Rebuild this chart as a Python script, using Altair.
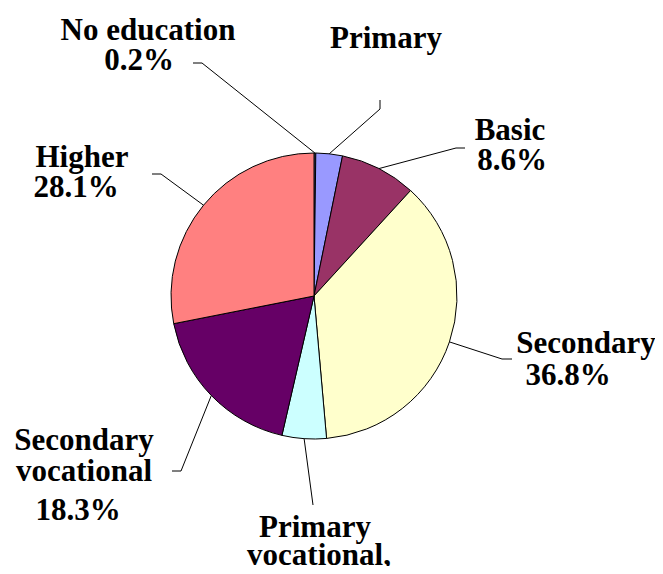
import altair as alt
import pandas as pd
import numpy as np

categories = ["No education", "Primary", "Basic", "Secondary",
              "Primary vocational", "Secondary vocational", "Higher"]
values = [0.2, 3.0, 8.6, 36.8, 5.0, 18.3, 28.1]
colors = ["#666699", "#9999FF", "#993366", "#FFFFCC", "#CCFFFF", "#660066", "#FF8080"]

# label text lines: (category, text, x center, baseline y)
label_lines = [
    ("No education", "No education", 148, 40),
    ("No education", "0.2%", 139, 70),
    ("Primary", "Primary", 386, 48),
    ("Basic", "Basic", 510, 140),
    ("Basic", "8.6%", 512, 170),
    ("Higher", "Higher", 82, 167),
    ("Higher", "28.1%", 76, 197),
    ("Secondary", "Secondary", 586, 353),
    ("Secondary", "36.8%", 568, 385),
    ("Secondary vocational", "Secondary", 84, 450),
    ("Secondary vocational", "vocational", 84, 481),
    ("Secondary vocational", "18.3%", 78, 520),
    ("Primary vocational", "Primary", 315, 537),
    ("Primary vocational", "vocational,", 319, 565),
]

# leader line outer points (end, elbow) per category
leader_outer = {
    "No education": [(193, 63), (202, 63)],
    "Primary": [(380, 100), (380, 109)],
    "Basic": [(465, 148), (456, 148)],
    "Secondary": [(512, 359), (502, 359)],
    "Primary vocational": [(313, 505), (313, 505)],
    "Secondary vocational": [(172, 471), (181, 471)],
    "Higher": [(152, 174), (161, 174)],
}

CX, CY, R = 314, 296, 143
FONT = "Liberation Serif"

pie_df = pd.DataFrame({
    "category": categories,
    "value": values,
    "idx": list(range(len(categories))),
    "cx": [CX] * len(categories),
    "cy": [CY] * len(categories),
})

total = sum(values)
cum = np.cumsum([0] + values)
rows = []
for i, c in enumerate(categories):
    mid = (cum[i] + values[i] / 2) / total * 2 * np.pi
    ex = CX + R * np.sin(mid)
    ey = CY - R * np.cos(mid)
    pts = leader_outer[c] + [(ex, ey)]
    for k, (px, py) in enumerate(pts):
        rows.append({"category": c, "step": k, "x": px, "y": py})
lead_df = pd.DataFrame(rows)

text_df = pd.DataFrame(label_lines, columns=["category", "label", "tx", "ty"])

W, H = 647, 558
xs = alt.Scale(domain=[8, 8 + W], nice=False, zero=False)
ys = alt.Scale(domain=[8, 8 + H], nice=False, zero=False, reverse=True)

pie = alt.Chart(pie_df).mark_arc(outerRadius=R, stroke="black", strokeWidth=1).encode(
    x=alt.X("cx:Q", scale=xs, axis=None),
    y=alt.Y("cy:Q", scale=ys, axis=None),
    theta=alt.Theta("value:Q", stack=True),
    order=alt.Order("idx:Q"),
    color=alt.Color("category:N", scale=alt.Scale(domain=categories, range=colors), legend=None),
)

leaders = alt.Chart(lead_df).mark_line(color="black", strokeWidth=1).encode(
    x=alt.X("x:Q", scale=xs, axis=None),
    y=alt.Y("y:Q", scale=ys, axis=None),
    detail="category:N",
    order="step:Q",
)

text_layers = []
for i in range(len(text_df)):
    sub = text_df.iloc[[i]]
    text_layers.append(
        alt.Chart(sub).mark_text(
            font=FONT, fontWeight="bold", fontSize=31,
            align="center", baseline="alphabetic",
        ).encode(
            x=alt.X("tx:Q", scale=xs, axis=None),
            y=alt.Y("ty:Q", scale=ys, axis=None),
            text="label:N",
        )
    )

chart = alt.layer(pie, leaders, *text_layers).properties(
    width=W, height=H, padding=0, autosize=alt.AutoSizeParams(type="none"),
).configure_view(stroke=None)

chart.save("out.html", embed_options={"renderer": "svg", "actions": False})
